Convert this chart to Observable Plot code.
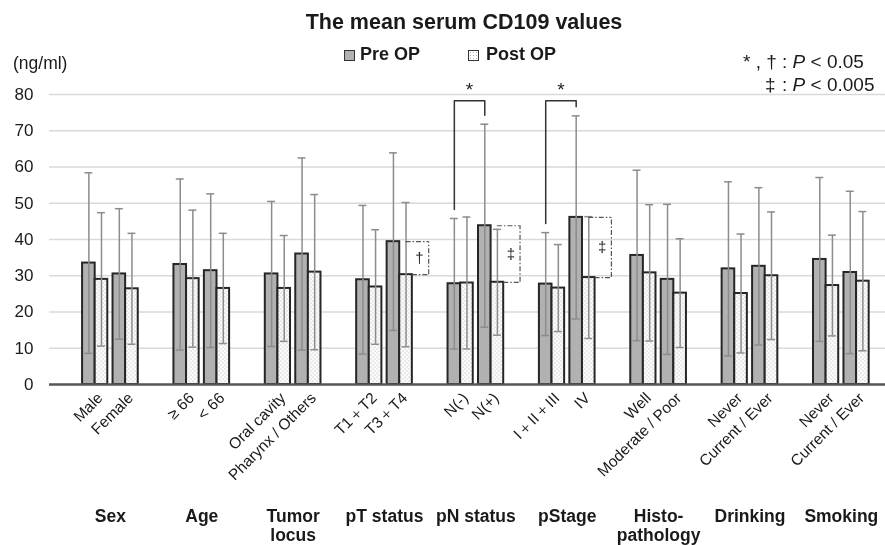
<!DOCTYPE html>
<html>
<head>
<meta charset="utf-8">
<script src="https://cdn.jsdelivr.net/npm/d3@7"></script>
<script src="https://cdn.jsdelivr.net/npm/@observablehq/plot@0.6"></script>
<style>
  html, body { margin: 0; padding: 0; background: #fff; }
  #wrap { position: relative; width: 885px; height: 545px; font-family: "Liberation Sans", Arial, sans-serif; color: #1a1a1a; overflow: hidden; filter: grayscale(1); }
  #chart { position: absolute; left: 0; top: 0; }
  .abs { position: absolute; white-space: nowrap; line-height: 1; }
  #title { left: 464px; top: 11.5px; transform: translateX(-50%); font-size: 21.5px; font-weight: bold; }
  .leg { top: 45px; font-size: 18px; font-weight: bold; }
  .sw { position: absolute; width: 9px; height: 9px; border: 1.5px solid #333; top: 49.5px; }
  #swPre { left: 344px; background: #b1b1b4; }
  #swPost { left: 468px; background-color: #fff; background-image: radial-gradient(#b0b0b0 0.8px, transparent 0.9px); background-size: 3px 3px; }
  .note { font-size: 19px; }
  #unit { left: 13px; top: 55px; font-size: 17.5px; }
</style>
</head>
<body>
<div id="wrap">
  <div id="chart"></div>
  <div id="title" class="abs">The mean serum CD109 values</div>
  <div id="swPre" class="sw"></div>
  <div class="abs leg" style="left:360px">Pre OP</div>
  <div id="swPost" class="sw"></div>
  <div class="abs leg" style="left:486px">Post OP</div>
  <div class="abs note" style="left:743px; top:52px">* , †</div>
  <div class="abs note" style="left:782px; top:52px">: <i>P</i> &lt; 0.05</div>
  <div class="abs note" style="left:765px; top:74.5px">‡</div>
  <div class="abs note" style="left:782px; top:74.5px">: <i>P</i> &lt; 0.005</div>
  <div id="unit" class="abs">(ng/ml)</div>
</div>
<script>
// ---- data ----
const groups = ["Sex", "Age", "Tumor\nlocus", "pT status", "pN status", "pStage", "Histo-\npathology", "Drinking", "Smoking"];
const categories = ["Male", "Female", "≥ 66", "< 66", "Oral cavity", "Pharynx / Others",
  "T1＋T2", "T3＋T4", "N(-)", "N(+)", "I＋II＋III", "IV", "Well", "Moderate / Poor",
  "Never", "Current / Ever", "Never", "Current / Ever"];
const preMean  = [33.5, 30.5, 33.1, 31.4, 30.5, 36.0, 28.9, 39.4, 27.8, 43.8, 27.7, 46.1, 35.6, 29.0, 31.9, 32.6, 34.5, 30.9];
const preSD    = [24.9, 18.0, 23.6, 21.2, 20.0, 26.5, 20.5, 24.5, 18.0, 28.0, 14.2, 28.0, 23.5, 20.7, 24.0, 21.7, 22.6, 22.4];
const postMean = [29.0, 26.4, 29.2, 26.5, 26.5, 31.0, 26.9, 30.3, 28.0, 28.2, 26.6, 29.5, 30.8, 25.2, 25.1, 30.0, 27.3, 28.5];
const postSD   = [18.4, 15.3, 18.9, 15.2, 14.6, 21.4, 15.8, 19.9, 18.2, 14.6, 12.0, 16.8, 18.8, 15.0, 16.4, 17.6, 13.9, 19.2];
const yTicks = [0, 10, 20, 30, 40, 50, 60, 70, 80];
// significance annotations (category indices)
const daggerMarks = [{k: 7, symbol: "†"}, {k: 9, symbol: "‡"}, {k: 11, symbol: "‡"}];
const starMarks = [{a: 8, b: 9}, {a: 10, b: 11}];
const starLevel = 78.3;
const starTextLevel = 81.3;

// ---- layout helpers ----
const BW = 0.414; // bar width in slot units
const slotOf = k => 3 * Math.floor(k / 2) + 1 + (k % 2);
const rows = categories.map((name, k) => ({
  k, name, c: slotOf(k) + 0.5,
  pre: preMean[k], preSD: preSD[k], post: postMean[k], postSD: postSD[k]
}));
const groupRows = groups.map((g, i) => ({g, x: 3 * i + 2}));
const daggerRows = daggerMarks.map(d => {
  const r = rows[d.k];
  return {...d, c: r.c, pre: r.pre, post: r.post, bx: r.c + 0.95};
});
const starLines = [];
const starTexts = [];
starMarks.forEach((s, i) => {
  const A = rows[s.a], B = rows[s.b];
  const xa = A.c - BW / 2, xb = B.c - BW / 2;
  starLines.push({id: i, x: xa, y: A.pre + A.preSD + 2.5});
  starLines.push({id: i, x: xa, y: starLevel});
  starLines.push({id: i, x: xb, y: starLevel});
  starLines.push({id: i, x: xb, y: B.pre + B.preSD + 2.5});
  starTexts.push({x: (xa + xb) / 2, y: starTextLevel});
});

const font = "Liberation Sans, Arial, sans-serif";
const errColor = "#8c8c8c";
const dashStyle = {stroke: "#555", strokeWidth: 1.2, strokeDasharray: "5,2,1.5,2"};

const plot = Plot.plot({
  width: 885,
  height: 545,
  marginLeft: 49,
  marginRight: 0,
  marginTop: 94,
  marginBottom: 161,
  style: {fontFamily: font, background: "transparent", overflow: "visible"},
  x: {domain: [0, 27.45], axis: null},
  y: {domain: [0, 80], axis: null},
  marks: [
    Plot.gridY(yTicks, {stroke: "#d9d9d9", strokeOpacity: 1, strokeWidth: 1.5}),
    Plot.axisY(yTicks, {tickSize: 0, tickPadding: 16, fontSize: 17, fill: "#1a1a1a", label: null}),
    Plot.rectY(rows, {x1: d => d.c - BW, x2: d => d.c, y1: 0, y2: "pre", fill: "#b1b1b4", stroke: "#262626", strokeWidth: 2}),
    Plot.rectY(rows, {x1: d => d.c, x2: d => d.c + BW, y1: 0, y2: "post", fill: "url(#dots)", stroke: "#262626", strokeWidth: 2}),
    // error bars
    Plot.ruleX(rows, {x: d => d.c - BW / 2, y1: d => d.pre - d.preSD, y2: d => d.pre + d.preSD, stroke: errColor, strokeWidth: 1.5}),
    Plot.ruleX(rows, {x: d => d.c + BW / 2, y1: d => d.post - d.postSD, y2: d => d.post + d.postSD, stroke: errColor, strokeWidth: 1.5}),
    ...["pre", "post"].flatMap(s => [1, -1].map(sign =>
      Plot.ruleY(rows, {
        y: d => d[s] + sign * d[s + "SD"],
        x1: d => d.c + (s === "pre" ? -BW / 2 : BW / 2) - 0.13,
        x2: d => d.c + (s === "pre" ? -BW / 2 : BW / 2) + 0.13,
        stroke: errColor, strokeWidth: 1.5
      }))),
    Plot.ruleY([0], {stroke: "#595959", strokeWidth: 2.5}),
    // dagger brackets
    Plot.ruleY(daggerRows, {y: "pre", x1: d => d.c + BW / 2, x2: "bx", ...dashStyle}),
    Plot.ruleY(daggerRows, {y: "post", x1: d => d.c + BW, x2: "bx", ...dashStyle}),
    Plot.ruleX(daggerRows, {x: "bx", y1: "post", y2: "pre", ...dashStyle}),
    Plot.text(daggerRows, {x: d => d.c + 0.65, y: d => (d.pre + d.post) / 2, text: "symbol", fontSize: 15, fill: "#222"}),
    // star brackets
    Plot.line(starLines, {x: "x", y: "y", z: "id", stroke: "#333", strokeWidth: 1.5}),
    Plot.text(starTexts, {x: "x", y: "y", text: () => "*", fontSize: 19, fill: "#222"}),
    // category labels
    Plot.text(rows, {x: "c", y: () => 0, text: "name", rotate: -45, textAnchor: "end", dx: 5, dy: 11, fontSize: 15.5, fill: "#1a1a1a"}),
    // group labels
    Plot.text(groupRows, {x: "x", y: () => 0, text: "g", lineAnchor: "top", dy: 124, fontSize: 17.5, fontWeight: "bold", lineHeight: 1.08, fill: "#1a1a1a"})
  ]
});

const svg = d3.select(plot);
const pat = svg.insert("defs", ":first-child")
  .append("pattern").attr("id", "dots").attr("width", 4).attr("height", 4).attr("patternUnits", "userSpaceOnUse");
pat.append("rect").attr("width", 4).attr("height", 4).attr("fill", "#fbfbfb");
pat.append("circle").attr("cx", 1).attr("cy", 1).attr("r", 0.6).attr("fill", "#b0b0b0");
pat.append("circle").attr("cx", 3).attr("cy", 3).attr("r", 0.6).attr("fill", "#b0b0b0");

document.getElementById("chart").appendChild(plot);
</script>
</body>
</html>
